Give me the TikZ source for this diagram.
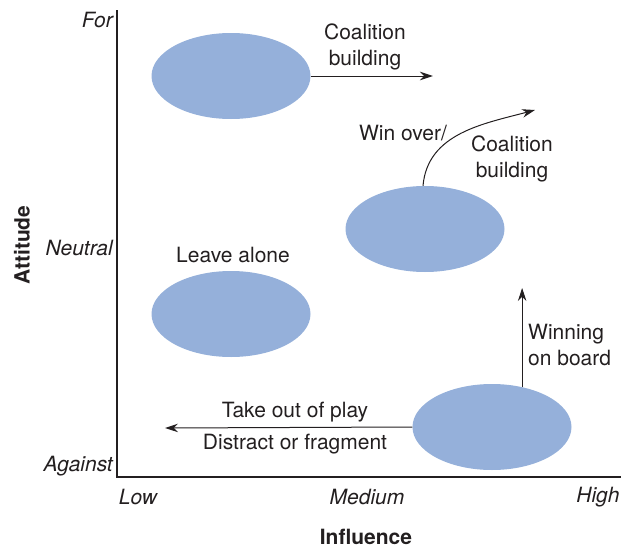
\documentclass[tikz,border=0pt]{standalone}
\usepackage{fontspec}
\setmainfont{TeX Gyre Heros}
\usepackage{xcolor}
\usetikzlibrary{shapes.geometric,arrows.meta}

\definecolor{blob}{RGB}{149,176,218}
\definecolor{ink}{RGB}{35,31,32}

\tikzset{
  group/.style={ellipse,fill=blob,minimum width=159pt,minimum height=86pt,inner sep=0pt},
  lbl/.style={text=ink,font=\fontsize{21}{26.5}\selectfont,align=center,inner sep=0pt},
  tick/.style={lbl,font=\fontsize{21}{26.5}\selectfont\itshape},
  axtitle/.style={lbl,font=\fontsize{21}{26.5}\selectfont\bfseries}
}

\begin{document}
\begin{tikzpicture}[x=1pt,y=-1pt,>={Stealth[length=13pt,width=8.5pt]}]
  \useasboundingbox (0,0) rectangle (622,549);
  % axes
  \coordinate (ytop) at (117,10);
  \coordinate (origin) at (117,477);
  \coordinate (xend) at (621,477);
  \draw[ink,line width=1.4pt] (ytop) -- (origin) -- (xend);
  \node[tick,anchor=east] (for) at (113,20) {For};
  \node[tick,anchor=east] (neutral) at (113,248) {Neutral};
  \node[tick,anchor=east] (against) at (113,466) {Against};
  \node[tick] (low) at (138,497) {Low};
  \node[tick] (medium) at (367,497) {Medium};
  \node[tick] (high) at (598,497) {High};
  \node[axtitle,rotate=90] (attitude) at (22,245) {Attitude};
  \node[axtitle] (influence) at (366,537) {Influence};

  % stakeholder groups
  \node[group] (allies) at (231,76) {};
  \node[group] (passive) at (231,314) {};
  \node[group] (waverers) at (425,229) {};
  \node[group] (opponents) at (492,427) {};

  % moves
  \coordinate (coalend) at (433,76);
  \draw[ink,line width=1pt,->] (allies.east) -- (coalend);
  \node[lbl] (coal1) at (365,47) {Coalition\\building};

  \coordinate (winend) at (535,110);
  \draw[ink,line width=1pt,->] ([xshift=-2pt]waverers.north) to[out=85,in=195] (winend);
  \node[lbl] (winover) at (403,133) {Win over/};
  \node[lbl] (coal2) at (512,159) {Coalition\\building};

  \node[lbl] (leave) at (233,255) {Leave alone};

  \coordinate (boardend) at (522,288);
  \draw[ink,line width=1pt,->] (opponents.53) -- (opponents.53 |- boardend);
  \node[lbl,align=left,anchor=west] (board) at (528,345) {Winning\\on board};

  \coordinate (playend) at (165,428);
  \draw[ink,line width=1pt,->] (opponents.west) -- (playend);
  \node[lbl] (takeout) at (295,412) {Take out of play};
  \node[lbl] (distract) at (295,444) {Distract or fragment};
\end{tikzpicture}
\end{document}
